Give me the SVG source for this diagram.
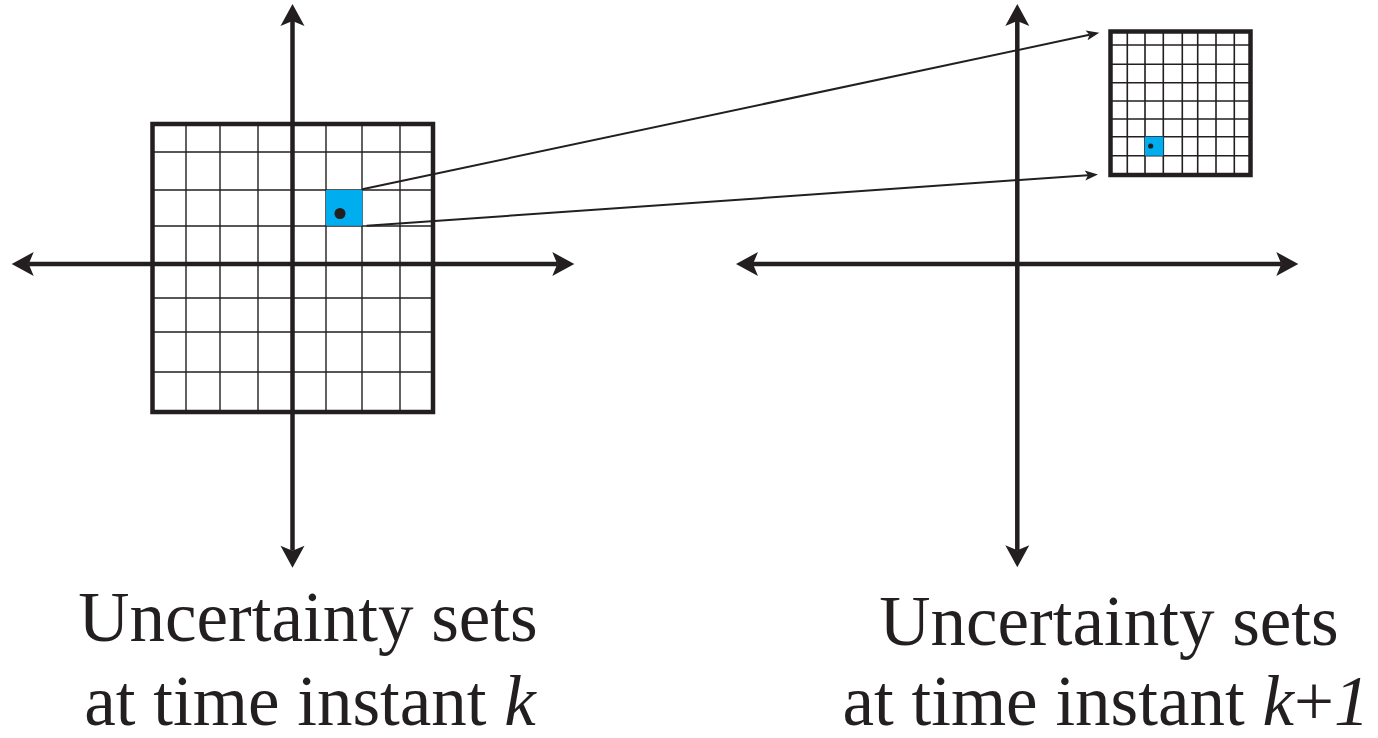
<svg xmlns="http://www.w3.org/2000/svg" width="1378" height="738" viewBox="0 0 1378 738">
<style>
.axis{stroke:#231f20;stroke-width:4.5;fill:none}
.frame{stroke:#231f20;stroke-width:4.5;fill:#fff}
.grid{stroke:#231f20;stroke-width:1.4;fill:none}
.gridS{stroke:#231f20;stroke-width:1.6;fill:none}
.cell{fill:#00aeef}
.dot{fill:#231f20}
.conn{stroke:#231f20;stroke-width:2;fill:none}
.lbl{font-family:'Liberation Serif','Times New Roman',serif;font-size:71px;fill:#231f20;text-anchor:middle}
</style>
<defs>
<marker id="ah" markerUnits="userSpaceOnUse" viewBox="-1 -13 25 26" markerWidth="25" markerHeight="26" refX="5" refY="0" orient="auto-start-reverse">
<path d="M0,-12 L22,0 L0,12 L5,0 Z" fill="#231f20"/>
</marker>
<marker id="sh" markerUnits="userSpaceOnUse" viewBox="-1 -6 15 12" markerWidth="15" markerHeight="12" refX="3" refY="0" orient="auto">
<path d="M0,-5 L13,0 L0,5 L3,0 Z" fill="#231f20"/>
</marker>
</defs>
<rect width="1378" height="738" fill="#fff"/>

<g id="set-k">
<rect class="frame" x="152.5" y="124" width="280.5" height="288"/>
<path class="grid" d="M186,124V412M220,124V412M258,124V412M326,124V412M362,124V412M400,124V412M152.5,152H433M152.5,190H433M152.5,226H433M152.5,298H433M152.5,332H433M152.5,372H433"/>
<rect class="cell" x="326" y="190" width="36.3" height="35.7"/>
<circle class="dot" cx="340" cy="213.5" r="5.5"/>
</g>

<g id="axes-k">
<line class="axis" x1="28.7" y1="264" x2="557.3" y2="264" marker-start="url(#ah)" marker-end="url(#ah)"/>
<line class="axis" x1="292.5" y1="21" x2="292.5" y2="550.7" marker-start="url(#ah)" marker-end="url(#ah)"/>
</g>

<g id="axes-k1">
<line class="axis" x1="753" y1="264" x2="1281.3" y2="264" marker-start="url(#ah)" marker-end="url(#ah)"/>
<line class="axis" x1="1017.3" y1="21" x2="1017.3" y2="550.3" marker-start="url(#ah)" marker-end="url(#ah)"/>
</g>

<g id="set-k1">
<rect class="frame" x="1110.5" y="31.5" width="140" height="143.5"/>
<path class="gridS" d="M1127.3,31.5V175M1145,31.5V175M1163.3,31.5V175M1182.3,31.5V175M1197.7,31.5V175M1216,31.5V175M1234.3,31.5V175M1110.5,45H1250.5M1110.5,64.3H1250.5M1110.5,82.7H1250.5M1110.5,101H1250.5M1110.5,119H1250.5M1110.5,136.7H1250.5M1110.5,155.7H1250.5"/>
<rect class="cell" x="1145" y="136.7" width="18.3" height="19"/>
<circle class="dot" cx="1150.7" cy="146" r="2.6"/>
</g>

<g id="connectors">
<line class="conn" x1="362.3" y1="189.3" x2="1089.5" y2="34.8" marker-end="url(#sh)"/>
<line class="conn" x1="366.7" y1="225.7" x2="1088" y2="175.2" marker-end="url(#sh)"/>
</g>

<g id="label-k">
<text class="lbl" x="308" y="641">Uncertainty sets</text>
<text class="lbl" x="310" y="725">at time instant <tspan font-style="italic">k</tspan></text>
</g>
<g id="label-k1">
<text class="lbl" x="1109" y="645">Uncertainty sets</text>
<text class="lbl" x="1106" y="725">at time instant <tspan font-style="italic">k</tspan>+<tspan font-style="italic">1</tspan></text>
</g>
</svg>
